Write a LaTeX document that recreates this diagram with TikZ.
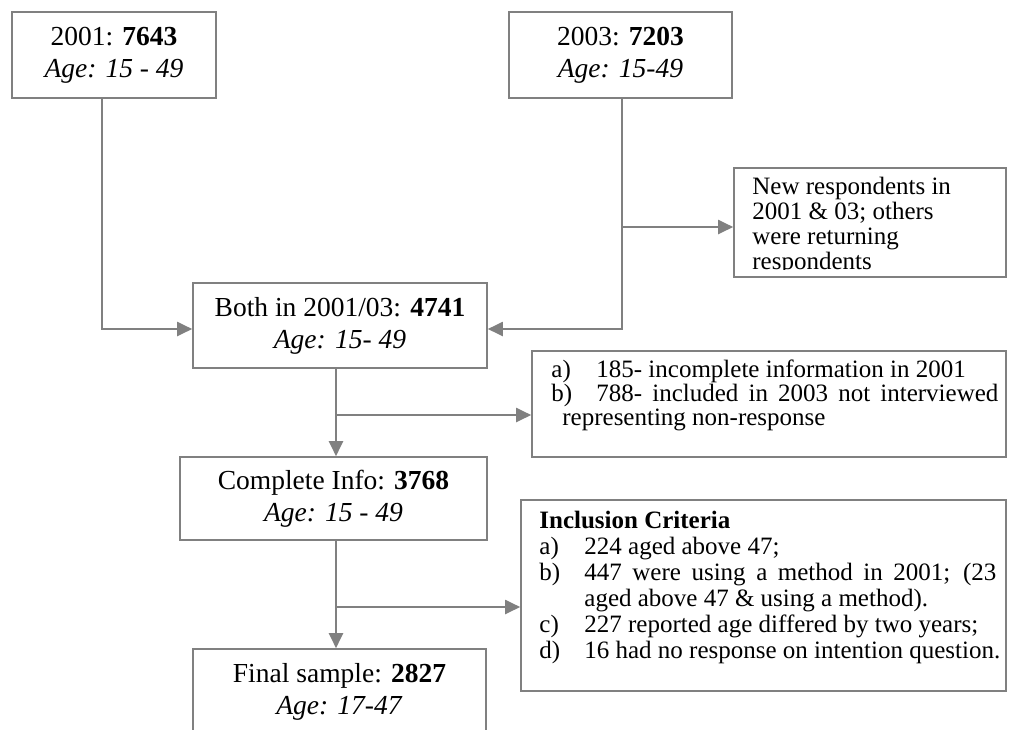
\documentclass[tikz,border=0pt]{standalone}
\usepackage{fontspec}
\setmainfont{Liberation Serif}
\usetikzlibrary{arrows.meta}
\definecolor{lgray}{RGB}{128,128,128}
\begin{document}
\begin{tikzpicture}[x=1pt,y=-1pt,
  txt/.style={font=\fontsize{25}{24}\selectfont, inner sep=0pt},
  bigtxt/.style={font=\fontsize{27.5}{32}\selectfont, inner sep=0pt},
  frame/.style={draw=lgray, line width=1.6pt, rectangle, inner sep=0pt},
  box/.style={frame, bigtxt, align=center},
  conn/.style={draw=lgray, line width=2pt, -{Triangle[length=15pt,width=14pt]}}]
\useasboundingbox (0,0) rectangle (1020,729);
\begin{scope}
\clip (0,0) rectangle (1020,729);
% main boxes
\node[box, minimum width=204pt, minimum height=86pt] (b1) at (114,55) {2001: \textbf{7643}\\\textit{Age: 15 - 49}};
\node[box, minimum width=223pt, minimum height=86pt] (b2) at (620.5,55) {2003: \textbf{7203}\\\textit{Age: 15-49}};
\node[box, minimum width=294pt, minimum height=85pt] (both) at (340,325.5) {Both in 2001/03: \textbf{4741}\\\textit{Age: 15- 49}};
\node[box, minimum width=307pt, minimum height=83pt] (comp) at (333.5,498.5) {Complete Info: \textbf{3768}\\\textit{Age: 15 - 49}};
\node[box, minimum width=293pt, minimum height=85pt] (final) at (339.5,691.5) {Final sample: \textbf{2827}\\\textit{Age: 17-47}};
% side boxes
\node[frame, minimum width=272pt, minimum height=109pt] (newr) at (870,222.5) {};
\begin{scope}
\clip ([yshift=8pt]newr.south west) rectangle (newr.north east);
\node[txt, font=\fontsize{25}{25}\selectfont, anchor=north west, align=left] (newrt) at ([xshift=19pt,yshift=-10pt]newr.north west) {New respondents in\\2001 \& 03; others\\were returning\\respondents};
\end{scope}
\node[frame, minimum width=474pt, minimum height=106pt] (excl) at (769,404) {};
\node[txt, anchor=north west, align=left] (exclt) at ([xshift=20pt,yshift=-9pt]excl.north west) {\makebox[45pt][l]{a)}185- incomplete information in 2001\\\makebox[45pt][l]{b)}\makebox[402pt][s]{788- included in 2003 not interviewed}\\\hspace*{11pt}representing non-response};
\node[frame, minimum width=485pt, minimum height=191pt] (incl) at (763.5,595.5) {};
\node[txt, font=\fontsize{25}{26}\selectfont, anchor=north west, align=left] (inclt) at ([xshift=19pt,yshift=-12pt]incl.north west) {\textbf{Inclusion Criteria}\\\makebox[45pt][l]{a)}224 aged above 47;\\\makebox[45pt][l]{b)}\makebox[412pt][s]{447 were using a method in 2001; (23}\\\hspace*{45pt}aged above 47 \& using a method).\\\makebox[45pt][l]{c)}227 reported age differed by two years;\\\makebox[45pt][l]{d)}16 had no response on intention question.};
% connectors
\coordinate (L) at (102,329);
\coordinate (R) at (622,329);
\coordinate (R2) at (622,227);
\coordinate (T1) at (336,415);
\coordinate (T2) at (336,607);
\draw[conn] (b1.south -| L) -- (L) -- (both.west |- L);
\draw[conn] (b2.south -| R) -- (R) -- (both.east |- R);
\draw[conn] (R2) -- (newr.west |- R2);
\draw[conn] (both.south -| T1) -- (comp.north -| T1);
\draw[conn] (T1) -- (excl.west |- T1);
\draw[conn] (comp.south -| T2) -- (final.north -| T2);
\draw[conn] (T2) -- (incl.west |- T2);
\end{scope}
\end{tikzpicture}
\end{document}
